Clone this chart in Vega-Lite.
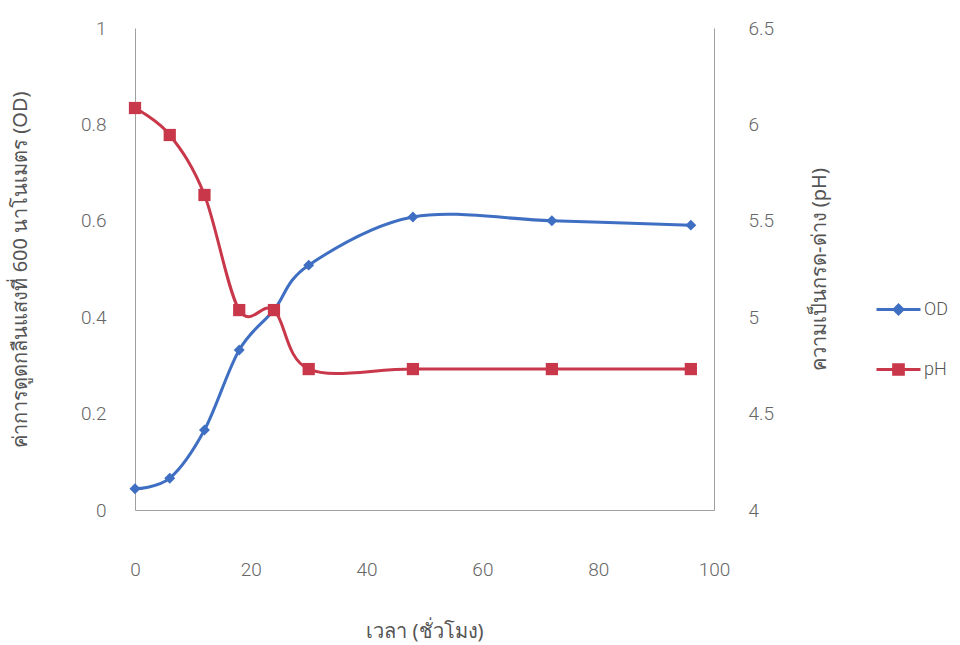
{
  "$schema": "https://vega.github.io/schema/vega-lite/v6.json",
  "width": 579,
  "height": 482,
  "autosize": {"type": "none"},
  "padding": {"left": 135, "top": 28, "right": 246, "bottom": 135},
  "background": "white",
  "config": {
    "view": {"stroke": null},
    "font": "Noto Sans",
    "axis": {
      "grid": false,
      "ticks": false,
      "domainColor": "#A0A0A0",
      "domainWidth": 1,
      "labelColor": "#666666",
      "labelFontSize": 19,
      "labelFont": "Roboto",
      "labelFontWeight": 300,
      "titleColor": "#555555",
      "titleFontSize": 20,
      "titleFontWeight": "normal"
    }
  },
  "data": {
    "values": [
      {"time": 0, "series": "OD", "value": 0.044},
      {"time": 6, "series": "OD", "value": 0.066},
      {"time": 12, "series": "OD", "value": 0.166},
      {"time": 18, "series": "OD", "value": 0.332},
      {"time": 24, "series": "OD", "value": 0.415},
      {"time": 30, "series": "OD", "value": 0.508},
      {"time": 48, "series": "OD", "value": 0.608},
      {"time": 72, "series": "OD", "value": 0.600},
      {"time": 96, "series": "OD", "value": 0.591},
      {"time": 0, "series": "pH", "value": 6.085},
      {"time": 6, "series": "pH", "value": 5.945},
      {"time": 12, "series": "pH", "value": 5.634},
      {"time": 18, "series": "pH", "value": 5.037},
      {"time": 24, "series": "pH", "value": 5.037},
      {"time": 30, "series": "pH", "value": 4.731},
      {"time": 48, "series": "pH", "value": 4.731},
      {"time": 72, "series": "pH", "value": 4.731},
      {"time": 96, "series": "pH", "value": 4.731}
    ]
  },
  "encoding": {
    "x": {
      "field": "time",
      "type": "quantitative",
      "scale": {"domain": [0, 100], "nice": false},
      "axis": {
        "values": [0, 20, 40, 60, 80, 100],
        "labelFlush": false,
        "labelPadding": 50,
        "title": "เวลา (ชั่วโมง)",
        "titlePadding": 42
      }
    },
    "color": {
      "field": "series",
      "type": "nominal",
      "scale": {"domain": ["OD", "pH"], "range": ["#3F6FC2", "#C8374A"]},
      "legend": {
        "title": null,
        "orient": "none",
        "legendX": 740,
        "legendY": 258,
        "padding": 0,
        "symbolSize": 1936,
        "symbolStrokeWidth": 3,
        "symbolOpacity": 1,
        "labelFont": "Roboto",
        "labelFontWeight": 300,
        "labelFontSize": 18,
        "labelColor": "#555555",
        "labelOffset": 2,
        "rowPadding": 26,
        "encoding": {
          "symbols": {
            "shape": {"value": {"expr": "datum.value === 'OD' ? 'M-1,0H1M-0.2,0L0,-0.2L0.2,0L0,0.2Z' : 'M-1,0H1M-0.22,-0.22H0.22V0.22H-0.22Z'"}},
            "fill": {"value": {"expr": "datum.value === 'OD' ? '#3F6FC2' : '#C8374A'"}},
            "stroke": {"value": {"expr": "datum.value === 'OD' ? '#3F6FC2' : '#C8374A'"}},
            "strokeWidth": {"value": 3}
          }
        }
      }
    }
  },
  "layer": [
    {
      "transform": [{"filter": "datum.series === 'OD'"}],
      "encoding": {
        "y": {
          "field": "value",
          "type": "quantitative",
          "scale": {"domain": [0, 1], "nice": false},
          "axis": {
            "orient": "left",
            "values": [0, 0.2, 0.4, 0.6, 0.8, 1],
            "format": "~g",
            "labelPadding": 29,
            "title": "ค่าการดูดกลืนแสงที่ 600 นาโนเมตร (OD)",
            "titlePadding": 50
          }
        }
      },
      "layer": [
        {"mark": {"type": "line", "interpolate": "cardinal", "strokeWidth": 3}},
        {"mark": {"type": "point", "shape": "diamond", "filled": true, "size": 120, "opacity": 1}}
      ]
    },
    {
      "transform": [{"filter": "datum.series === 'pH'"}],
      "encoding": {
        "y": {
          "field": "value",
          "type": "quantitative",
          "scale": {"domain": [4, 6.5], "nice": false},
          "axis": {
            "orient": "right",
            "values": [4, 4.5, 5, 5.5, 6, 6.5],
            "format": "~g",
            "labelPadding": 34,
            "title": "ความเป็นกรด-ด่าง (pH)",
            "titleAngle": 270,
            "titlePadding": 56
          }
        }
      },
      "layer": [
        {"mark": {"type": "line", "interpolate": "cardinal", "strokeWidth": 3}},
        {"mark": {"type": "square", "filled": true, "size": 150, "opacity": 1}}
      ]
    }
  ],
  "resolve": {"scale": {"y": "independent"}}
}
